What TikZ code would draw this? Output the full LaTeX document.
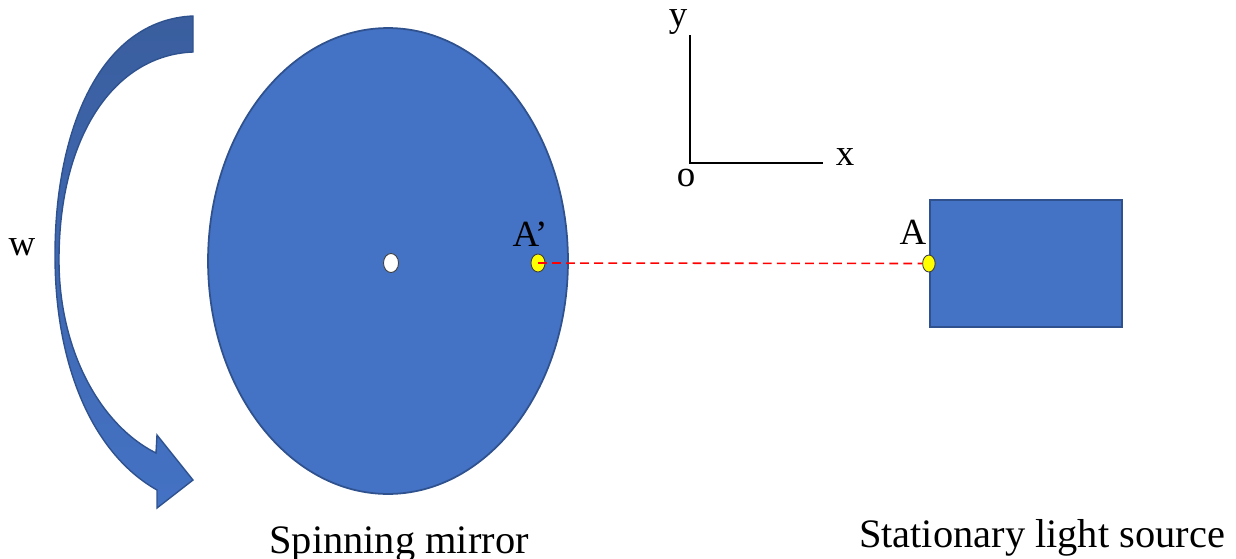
\documentclass[tikz,border=0pt]{standalone}
\usepackage{fontspec}
\setmainfont{Liberation Serif}
\usetikzlibrary{positioning, shapes.geometric}
\definecolor{mirrorblue}{HTML}{4472C4}
\definecolor{edgeblue}{HTML}{2F528F}
\definecolor{darkblue}{HTML}{3A5E9E}
\definecolor{spotyellow}{HTML}{FFFF00}

\begin{document}
\begin{tikzpicture}[
    x=0.02cm, y=-0.02cm,
    body/.style={draw=edgeblue, fill=mirrorblue, line width=1pt},
    spot/.style={ellipse, draw=black!75, line width=0.5pt, fill=spotyellow,
                 minimum width=0.28cm, minimum height=0.36cm, inner sep=0pt},
    lbl/.style={font=\fontsize{21}{24}\selectfont, inner sep=1pt},
    caption/.style={font=\fontsize{23}{27}\selectfont, anchor=base},
    axis/.style={line width=1.6pt},
    beam/.style={red, dash pattern=on 5pt off 3pt, line width=0.9pt},
  ]
  \useasboundingbox (0,0) rectangle (1236,558);

  % rotation arrow
  \draw[draw=edgeblue, line width=0.8pt, top color=darkblue, middle color=mirrorblue,
        bottom color=mirrorblue]
        (193,16) .. controls (100,20) and (55,130) .. (55,255)
        .. controls (55,370) and (95,455) .. (157,490) -- (157,508) -- (193,480)
        -- (157,435) -- (156,453) .. controls (100,425) and (59,350) .. (59,260)
        .. controls (59,135) and (115,55) .. (193,52) -- cycle;
  \node[lbl] (omega) at (22,247) {w};

  % mirror and source
  \node[body, ellipse, minimum width=7.2cm, minimum height=9.32cm, inner sep=0pt] (mirror) at (388,261) {};
  \node[spot, fill=white, minimum width=0.3cm, minimum height=0.38cm] (hub) at (391,263) {};
  \node[body, rectangle, line width=1.3pt, minimum width=3.84cm, minimum height=2.54cm] (source) at (1026,263.5) {};
  \node[spot] (Ap) at (538,263) {};
  \node[spot, minimum width=0.25cm, minimum height=0.34cm] (A) at (source.west) {};
  \draw[beam] (Ap.center) -- (A.west);
  \node[lbl] (Aplbl) at (530,234) {A’};
  \node[lbl] (Albl) at (913,232) {A};

  % axes
  \coordinate (o) at (690,163);
  \coordinate (ytip) at (690,35);
  \coordinate (xtip) at (823,163);
  \draw[axis] (ytip) -- (o) -- (xtip);
  \node[lbl] (ylbl) at (678,22) {y};
  \node[lbl] (xlbl) at (845,157) {x};
  \node[lbl] (olbl) at (686,178) {o};

  \node[caption] (mirrorcap) at (399,553) {Spinning mirror};
  \node[caption] (sourcecap) at (1042,547) {Stationary light source};
\end{tikzpicture}
\end{document}
